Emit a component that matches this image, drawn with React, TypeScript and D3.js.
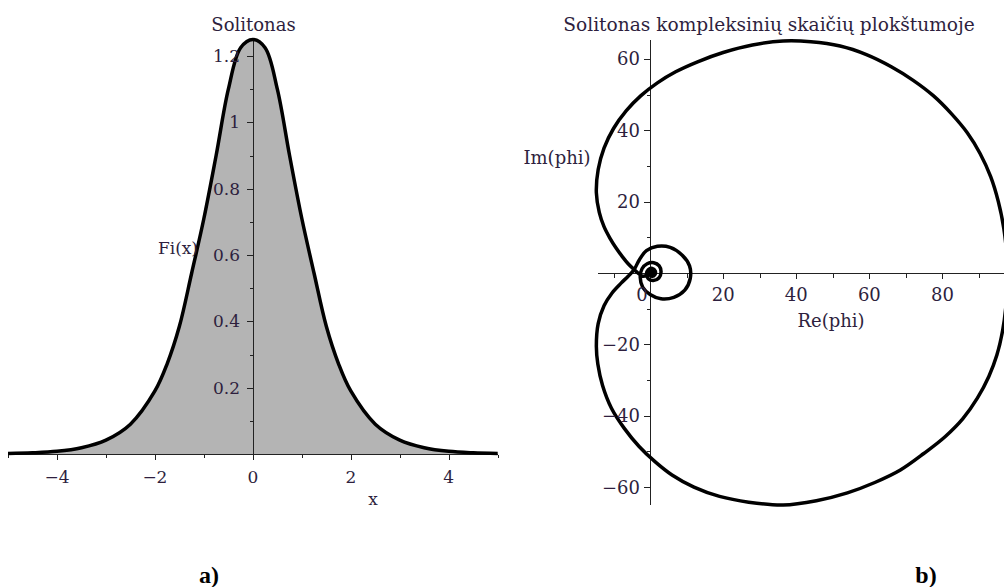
import React from 'react';
import * as d3 from 'd3';

// Panel a) – soliton profile Fi(x)
const solX = [-5, -4.5, -4, -3.5, -3, -2.5, -2, -1.75, -1.5, -1.25, -1, -0.75, -0.5, -0.25, 0, 0.25, 0.5, 0.75, 1, 1.25, 1.5, 1.75, 2, 2.5, 3, 3.5, 4, 4.5, 5];
const solFi = [0.0015, 0.0035, 0.008, 0.019, 0.042, 0.09, 0.19, 0.272, 0.385, 0.545, 0.71, 0.9, 1.1, 1.225, 1.25, 1.225, 1.1, 0.9, 0.71, 0.545, 0.385, 0.272, 0.19, 0.09, 0.042, 0.019, 0.008, 0.0035, 0.0015];
const xTicksA = [-4, -2, 0, 2, 4];
const xMinorA = [-5, -3, -1, 1, 3, 5];
const yTicksA = [0.2, 0.4, 0.6, 0.8, 1, 1.2];
const yMinorA = [0.1, 0.3, 0.5, 0.7, 0.9, 1.1];

// Panel b) – the soliton traced in the complex plane (Re(phi), Im(phi))
const phiRe = [0.2, -0.8, -2.0, -3.2, -4.4, -6.0, -7.6, -9.3, -11.0, -12.6, -13.9, -14.7, -14.2, -12.6, -10, -6.5, -2.5, 2, 7, 13, 20, 28, 36.4, 44, 52, 59.2, 66, 72, 77.5, 82.5, 86.8, 90.3, 93.2, 95.3, 96.8, 97.6, 97.8, 97.4, 96.5, 94.9, 92.7, 89.6, 85.6, 80.8, 75, 68.5, 61.5, 54, 45.5, 36.4, 27, 19, 12, 6, 1.5, -3, -7, -10.6, -13, -14.3, -14.7, -14.2, -12.6, -10.4, -8.0, -6.0, -4.4, -3.0, -1.0, 2, 5.5, 8.8, 10.8, 11.0, 9.5, 6.5, 3, 0, -2, -2.7, -2.2, -0.8, 1, 2.5, 3, 2.4, 0.9, -0.5, -1.0, -0.5, 0.6, 1.4, 1.3, 0.5, -0.1, 0.3, 0.8];
const phiIm = [0.1, -0.6, -0.9, -0.1, 1.0, 2.6, 4.6, 7.0, 9.8, 13.0, 17.0, 22.5, 29, 35, 40.5, 45.5, 49.7, 53.3, 56.4, 59.2, 61.8, 63.9, 65.0, 64.8, 63.6, 61.2, 57.8, 54, 49.7, 44.6, 39.3, 33.5, 27, 20, 12.5, 5, -2, -9, -16, -23, -29, -35, -40.8, -45.8, -50.5, -55.2, -58.7, -61.6, -63.8, -65, -64.2, -62.6, -60, -56.6, -53, -48.6, -43.6, -37.8, -31.5, -25.5, -20.6, -14.2, -9.2, -5.6, -2.9, -0.9, 0.9, 3.6, 6.3, 7.5, 7.2, 5, 2, -1.5, -4.8, -6.8, -7.2, -6, -4, -1.2, 1.2, 2.6, 2.9, 2, 0.3, -1.4, -2.1, -1.6, -0.3, 0.9, 1.3, 0.6, -0.5, -0.9, -0.3, 0.4, 0.1];
const reTicks = [20, 40, 60, 80];
const reMinor = [-10, 10, 30, 50, 70, 90];
const imTicks = [-60, -40, -20, 20, 40, 60];
const imMinor = [-50, -30, -10, 10, 30, 50];

const FONT = '"DejaVu Serif", serif';
const TEXT = '#2e1f3e';
const AXIS = '#222';

const fmt = (v: number) => (v < 0 ? '\u2212' + Math.abs(v) : String(v));

export default function App() {
  // scales for panel a)
  const xa = d3.scaleLinear().domain([-5, 5]).range([8, 497.7]);
  const ya = d3.scaleLinear().domain([0, 1.2]).range([454, 56]);
  const solPts: [number, number][] = solX.map((x, i) => [x, solFi[i]]);
  const solLine = d3
    .line<[number, number]>()
    .x((d) => xa(d[0]))
    .y((d) => ya(d[1]))
    .curve(d3.curveCatmullRom)(solPts) as string;
  const solArea = d3
    .area<[number, number]>()
    .x((d) => xa(d[0]))
    .y0(ya(0))
    .y1((d) => ya(d[1]))
    .curve(d3.curveCatmullRom)(solPts) as string;

  // scales for panel b)
  const xb = d3.scaleLinear().domain([-14.25, 96.85]).range([598, 1004]);
  const yb = d3.scaleLinear().domain([-65, 65.3]).range([505, 40]);
  const phiPts: [number, number][] = phiRe.map((r, i) => [r, phiIm[i]]);
  const phiLine = d3
    .line<[number, number]>()
    .x((d) => xb(d[0]))
    .y((d) => yb(d[1]))
    .curve(d3.curveCatmullRom)(phiPts) as string;

  const ax0 = Math.round(xa(0)) + 0.5;
  const ay0 = Math.round(ya(0)) + 0.5;
  const bx0 = Math.round(xb(0)) + 0.5;
  const by0 = Math.round(yb(0)) + 0.5;

  return (
    <svg
      width={1004}
      height={587}
      style={{ position: 'absolute', left: 0, top: 0, background: '#fff' }}
      fontFamily={FONT}
    >
      <rect width={1004} height={587} fill="#fff" />

      {/* ---- panel a) ---- */}
      <path d={solArea} fill="#b4b4b4" />
      <g stroke={AXIS} strokeWidth={1} shapeRendering="crispEdges">
        <line x1={xa(-5)} x2={xa(5)} y1={ay0} y2={ay0} />
        <line x1={ax0} x2={ax0} y1={ay0} y2={40} />
        {xTicksA.map((t) => (
          <line key={'xa' + t} x1={Math.round(xa(t)) + 0.5} x2={Math.round(xa(t)) + 0.5} y1={ay0} y2={ay0 + 5} />
        ))}
        {xMinorA.map((t) => (
          <line key={'xam' + t} x1={Math.round(xa(t)) + 0.5} x2={Math.round(xa(t)) + 0.5} y1={ay0} y2={ay0 + 3} />
        ))}
        {yTicksA.map((t) => (
          <line key={'ya' + t} x1={ax0 - 7} x2={ax0} y1={Math.round(ya(t)) + 0.5} y2={Math.round(ya(t)) + 0.5} />
        ))}
        {yMinorA.map((t) => (
          <line key={'yam' + t} x1={ax0 - 4} x2={ax0} y1={Math.round(ya(t)) + 0.5} y2={Math.round(ya(t)) + 0.5} />
        ))}
      </g>
      <path d={solLine} fill="none" stroke="#000" strokeWidth={3.5} strokeLinejoin="round" />
      <g fill={TEXT} fontSize={17}>
        {xTicksA.map((t) => (
          <text key={'xl' + t} x={xa(t)} y={483} textAnchor="middle">
            {fmt(t)}
          </text>
        ))}
        {yTicksA.map((t) => (
          <text key={'yl' + t} x={240} y={ya(t) + 6} textAnchor="end">
            {String(t)}
          </text>
        ))}
        <text x={373} y={505} textAnchor="middle">x</text>
        <text x={198} y={254} textAnchor="end">Fi(x)</text>
      </g>
      <text x={253.5} y={31} textAnchor="middle" fontSize={18} fill={TEXT}>
        Solitonas
      </text>

      {/* ---- panel b) ---- */}
      <g stroke={AXIS} strokeWidth={1} shapeRendering="crispEdges">
        <line x1={598} x2={1004} y1={by0} y2={by0} />
        <line x1={bx0} x2={bx0} y1={40} y2={505} />
        {reTicks.map((t) => (
          <line key={'xb' + t} x1={Math.round(xb(t)) + 0.5} x2={Math.round(xb(t)) + 0.5} y1={by0} y2={by0 + 5} />
        ))}
        {reMinor.map((t) => (
          <line key={'xbm' + t} x1={Math.round(xb(t)) + 0.5} x2={Math.round(xb(t)) + 0.5} y1={by0} y2={by0 + 4} />
        ))}
        {imTicks.map((t) => (
          <line key={'yb' + t} x1={bx0 - 7} x2={bx0} y1={Math.round(yb(t)) + 0.5} y2={Math.round(yb(t)) + 0.5} />
        ))}
        {imMinor.map((t) => (
          <line key={'ybm' + t} x1={bx0 - 4} x2={bx0} y1={Math.round(yb(t)) + 0.5} y2={Math.round(yb(t)) + 0.5} />
        ))}
      </g>
      <path d={phiLine} fill="none" stroke="#000" strokeWidth={3.5} strokeLinejoin="round" />
      <circle cx={xb(0.2)} cy={yb(0.2)} r={3.5} fill="#000" />
      <g fill={TEXT} fontSize={18}>
        <text x={642} y={301} textAnchor="middle">0</text>
        {reTicks.map((t) => (
          <text key={'xbl' + t} x={xb(t)} y={301} textAnchor="middle">
            {fmt(t)}
          </text>
        ))}
        {imTicks.map((t) => (
          <text key={'ybl' + t} x={640} y={yb(t) + 6.5} textAnchor="end">
            {fmt(t)}
          </text>
        ))}
        <text x={831} y={327} textAnchor="middle">Re(phi)</text>
        <text x={557} y={164} textAnchor="middle">Im(phi)</text>
      </g>
      <text x={769} y={31} textAnchor="middle" fontSize={18.6} fill={TEXT}>
        Solitonas kompleksinių skaičių plokštumoje
      </text>

      {/* panel captions */}
      <g fontFamily='"Liberation Serif", serif' fontWeight="bold" fontSize={24} fill="#000">
        <text x={209} y={583} textAnchor="middle">a)</text>
        <text x={926} y={583} textAnchor="middle">b)</text>
      </g>
    </svg>
  );
}
